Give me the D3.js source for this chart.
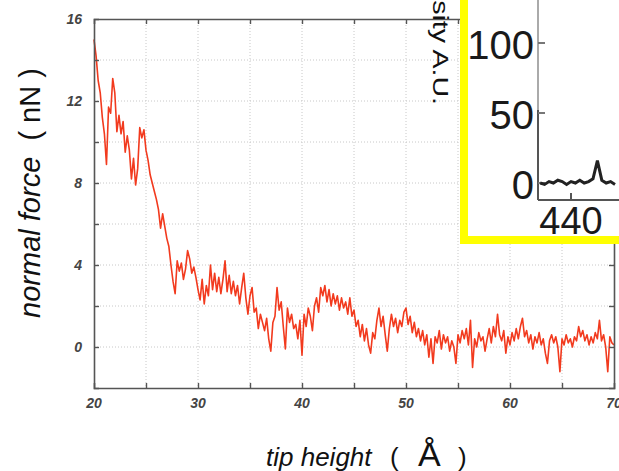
<!DOCTYPE html>
<html>
<head>
<meta charset="utf-8">
<script src="https://cdn.jsdelivr.net/npm/d3@7"></script>
<style>
  body { margin: 0; background: #fff; }
  text { font-family: "Liberation Sans", Arial, sans-serif; }
</style>
</head>
<body>
<div id="plot"></div>
<script>
// tip height (Å)
const tipHeight = [
  20, 20.2, 20.4, 20.6, 20.8, 21, 21.2, 21.4, 21.6, 21.8,
  22, 22.2, 22.4, 22.6, 22.8, 23, 23.2, 23.4, 23.6, 23.8,
  24, 24.2, 24.4, 24.6, 24.8, 25, 25.2, 25.4, 25.6, 25.8,
  26, 26.2, 26.4, 26.6, 26.8, 27, 27.2, 27.4, 27.6, 27.8,
  28, 28.2, 28.4, 28.6, 28.8, 29, 29.2, 29.4, 29.6, 29.8,
  30, 30.2, 30.4, 30.6, 30.8, 31, 31.2, 31.4, 31.6, 31.8,
  32, 32.2, 32.4, 32.6, 32.8, 33, 33.2, 33.4, 33.6, 33.8,
  34, 34.2, 34.4, 34.6, 34.8, 35, 35.2, 35.4, 35.6, 35.8,
  36, 36.2, 36.4, 36.6, 36.8, 37, 37.2, 37.4, 37.6, 37.8,
  38, 38.2, 38.4, 38.6, 38.8, 39, 39.2, 39.4, 39.6, 39.8,
  40, 40.2, 40.4, 40.6, 40.8, 41, 41.2, 41.4, 41.6, 41.8,
  42, 42.2, 42.4, 42.6, 42.8, 43, 43.2, 43.4, 43.6, 43.8,
  44, 44.2, 44.4, 44.6, 44.8, 45, 45.2, 45.4, 45.6, 45.8,
  46, 46.2, 46.4, 46.6, 46.8, 47, 47.2, 47.4, 47.6, 47.8,
  48, 48.2, 48.4, 48.6, 48.8, 49, 49.2, 49.4, 49.6, 49.8,
  50, 50.2, 50.4, 50.6, 50.8, 51, 51.2, 51.4, 51.6, 51.8,
  52, 52.2, 52.4, 52.6, 52.8, 53, 53.2, 53.4, 53.6, 53.8,
  54, 54.2, 54.4, 54.6, 54.8, 55, 55.2, 55.4, 55.6, 55.8,
  56, 56.2, 56.4, 56.6, 56.8, 57, 57.2, 57.4, 57.6, 57.8,
  58, 58.2, 58.4, 58.6, 58.8, 59, 59.2, 59.4, 59.6, 59.8,
  60, 60.2, 60.4, 60.6, 60.8, 61, 61.2, 61.4, 61.6, 61.8,
  62, 62.2, 62.4, 62.6, 62.8, 63, 63.2, 63.4, 63.6, 63.8,
  64, 64.2, 64.4, 64.6, 64.8, 65, 65.2, 65.4, 65.6, 65.8,
  66, 66.2, 66.4, 66.6, 66.8, 67, 67.2, 67.4, 67.6, 67.8,
  68, 68.2, 68.4, 68.6, 68.8, 69, 69.2, 69.4, 69.6, 69.8,
  70
];

// normal force (nN)
const normalForce = [
  15.0, 14.2, 13.0, 12.4, 11.2, 10.4, 8.9, 11.7, 11.4, 13.1,
  12.4, 10.5, 11.3, 10.4, 11.0, 9.5, 10.3, 9.6, 8.2, 9.2,
  7.9, 8.7, 10.7, 10.2, 10.6, 9.6, 9.1, 8.4, 8.0, 7.6,
  7.2, 6.7, 5.8, 6.5, 5.9, 5.3, 4.9, 4.0, 3.2, 2.6,
  4.2, 3.7, 4.1, 3.3, 3.8, 4.7, 4.3, 3.6, 3.9, 3.4,
  2.8, 2.3, 3.3, 2.1, 3.0, 2.5, 4.0, 2.8, 3.6, 2.7,
  3.4, 2.6, 3.3, 4.2, 2.7, 3.5, 2.6, 3.2, 2.5, 3.0,
  2.1, 2.9, 3.6, 2.4, 1.6, 2.5, 2.9, 1.7, 1.9, 0.9,
  1.6, 1.2, 0.8, 1.4, 0.4, -0.2, 1.2, 1.5, 2.9, 1.8,
  2.2, 1.0, -0.1, 1.9, 1.2, 1.6, 0.9, 1.1, 0.4, 1.3,
  -0.4, 1.6, 1.0, 1.9, 1.5, 0.8, 2.0, 2.4, 1.7, 2.9,
  2.5, 3.0, 2.2, 2.8, 2.0, 2.6, 2.1, 2.5, 1.8, 2.4,
  1.9, 2.2, 1.6, 2.4, 1.5, 1.8, 1.0, 1.3, 0.5, 1.1,
  0.3, 0.9, 0.1, -0.3, 0.7, 0.4, 1.3, 1.9, 1.0, 1.5,
  0.6, -0.2, 0.9, 1.6, 1.0, 1.4, 0.7, 1.3, 1.0, 1.7,
  1.9, 1.1, 1.5, 0.7, 1.2, 0.5, 0.9, 0.3, 0.8, 0.1,
  0.6, -0.5, 0.4, -0.8, 0.5, 0.2, 0.8, -0.1, 0.6, 0.2,
  0.5, -0.2, 0.3, 0.0, -0.8, 0.6, 0.2, 0.8, 0.4, 0.9,
  0.1, 1.3, -1.0, 0.4, 0.0, 0.7, 0.3, 0.5, -0.2, 0.4,
  0.9, 0.2, 1.0, 0.5, 1.6, 0.6, 0.3, 0.8, -0.3, 0.5,
  0.1, 0.7, 0.3, 0.9, 0.4, 1.0, 1.4, 0.5, 0.8, 0.2,
  0.6, -0.1, 0.5, 0.2, 0.7, 0.1, 0.4, -0.3, -0.8, 0.3,
  0.6, 0.2, 0.5, 0.0, -1.2, 0.4, 0.1, 0.6, 0.2, 0.4,
  0.0, 0.5, 0.3, 1.0, 0.5, 0.8, 0.3, 0.6, 0.1, 0.5,
  0.2, 0.7, 0.4, 1.3, 0.3, 0.6, 0.0, -1.2, 0.5, 0.2,
  0.1
];

const xTickLabels = [20, 30, 40, 50, 60, 70];
const yTickLabels = [0, 4, 8, 12, 16];
const xGrid = [25, 30, 35, 40, 45, 50, 55, 60, 65];
const yGrid = [0, 2, 4, 6, 8, 10, 12, 14];

// inset spectrum (cropped at the top right)
const insetWavelength = [426, 428, 430, 432, 434, 436, 438, 440, 442, 444, 446, 448, 450, 452, 454, 456, 458, 460];
const insetIntensity = [0, -1, 1, 0, 2, 1, -1, 1, 0, 2, 0, 1, 3, 16, 2, 0, 1, -1];
const insetYTicks = [0, 50, 100];
const insetXTicks = [440];

const W = 619, H = 471;

const svg = d3.select("div#plot")
  .append("svg")
  .attr("width", W)
  .attr("height", H);

const x = d3.scaleLinear().domain([20, 70]).range([94, 614]);
const y = d3.scaleLinear().domain([-2, 16]).range([388, 19]);

// dotted grid
svg.append("g")
  .selectAll("line")
  .data(xGrid)
  .join("line")
    .attr("x1", d => x(d)).attr("x2", d => x(d))
    .attr("y1", y(16)).attr("y2", y(-2))
    .attr("stroke", "#c8c8c8")
    .attr("stroke-dasharray", "1,2");

svg.append("g")
  .selectAll("line")
  .data(yGrid)
  .join("line")
    .attr("x1", x(20)).attr("x2", x(70))
    .attr("y1", d => y(d)).attr("y2", d => y(d))
    .attr("stroke", "#c8c8c8")
    .attr("stroke-dasharray", "1,2");

// the force curve
const pts = tipHeight.map((t, i) => [t, normalForce[i]]);
svg.append("path")
  .datum(pts)
  .attr("fill", "none")
  .attr("stroke", "#f23a1e")
  .attr("stroke-width", 1.6)
  .attr("stroke-linejoin", "round")
  .attr("d", d3.line().x(d => x(d[0])).y(d => y(d[1])));

// frame with inward ticks on all sides
const tk = 5;
const bottomAx = svg.append("g").attr("transform", `translate(0,${y(-2)})`)
  .call(d3.axisBottom(x).tickValues(xGrid).tickSize(-tk).tickFormat(""));
const topAx = svg.append("g").attr("transform", `translate(0,${y(16)})`)
  .call(d3.axisTop(x).tickValues(xGrid).tickSize(-tk).tickFormat(""));
const leftAx = svg.append("g").attr("transform", `translate(${x(20)},0)`)
  .call(d3.axisLeft(y).tickValues(yGrid).tickSize(-tk).tickFormat(""));
const rightAx = svg.append("g").attr("transform", `translate(${x(70)},0)`)
  .call(d3.axisRight(y).tickValues(yGrid).tickSize(-tk).tickFormat(""));
[bottomAx, topAx, leftAx, rightAx].forEach(g => {
  g.selectAll("path").attr("stroke", "#555").attr("stroke-width", 1.6);
  g.selectAll("line").attr("stroke", "#555").attr("stroke-width", 1.4);
});

// tick labels
svg.append("g")
  .selectAll("text")
  .data(xTickLabels)
  .join("text")
    .attr("x", d => x(d))
    .attr("y", 408)
    .attr("text-anchor", "middle")
    .style("font-size", "14px")
    .style("font-style", "italic")
    .style("font-weight", "bold")
    .attr("fill", "#444")
    .text(d => d);

svg.append("g")
  .selectAll("text")
  .data(yTickLabels)
  .join("text")
    .attr("x", 82)
    .attr("y", d => y(d) + 5)
    .attr("text-anchor", "end")
    .style("font-size", "14px")
    .style("font-style", "italic")
    .style("font-weight", "bold")
    .attr("fill", "#444")
    .text(d => d);

// axis titles
const xt = svg.append("text")
  .attr("y", 466)
  .style("font-size", "26px")
  .attr("fill", "#111");
xt.append("tspan").attr("x", 266).style("font-style", "italic").text("tip height");
xt.append("tspan").attr("x", 390).text("(");
xt.append("tspan").attr("x", 418).style("font-size", "34px").text("Å");
xt.append("tspan").attr("x", 458).text(")");

const yt = svg.append("text")
  .attr("transform", "translate(40,193) rotate(-90)")
  .attr("text-anchor", "middle")
  .style("font-size", "29px")
  .attr("fill", "#111");
yt.append("tspan").style("font-style", "italic").text("normal force");
yt.append("tspan").text("\u00a0\u00a0(\u00a0nN\u00a0)");

// inset box
svg.append("rect")
  .attr("x", 464).attr("y", -20)
  .attr("width", 200).attr("height", 260)
  .attr("fill", "#fff")
  .attr("stroke", "#ffff00")
  .attr("stroke-width", 8);

const ix = d3.scaleLinear().domain([425, 460]).range([538, 615]);
const iy = d3.scaleLinear().domain([0, 100]).range([183, 43]);

svg.append("line")
  .attr("x1", 538).attr("x2", 538).attr("y1", 0).attr("y2", 110)
  .attr("stroke", "#aaa").attr("stroke-width", 2);
svg.append("line")
  .attr("x1", 538).attr("x2", 538).attr("y1", 110).attr("y2", 200)
  .attr("stroke", "#555").attr("stroke-width", 2);
svg.append("line")
  .attr("x1", 538).attr("x2", 619).attr("y1", 200).attr("y2", 200)
  .attr("stroke", "#555").attr("stroke-width", 2);

svg.append("g")
  .selectAll("line")
  .data(insetYTicks)
  .join("line")
    .attr("x1", 538).attr("x2", 545)
    .attr("y1", d => iy(d)).attr("y2", d => iy(d))
    .attr("stroke", "#777").attr("stroke-width", 2);

svg.append("g")
  .selectAll("line")
  .data(insetXTicks)
  .join("line")
    .attr("x1", d => ix(d)).attr("x2", d => ix(d))
    .attr("y1", 200).attr("y2", 193)
    .attr("stroke", "#555").attr("stroke-width", 2);

svg.append("g")
  .selectAll("text")
  .data(insetYTicks)
  .join("text")
    .attr("x", 534)
    .attr("y", d => iy(d) + 16)
    .attr("text-anchor", "end")
    .style("font-size", "40px")
    .attr("fill", "#1a1a1a")
    .text(d => d);

svg.append("g")
  .selectAll("text")
  .data(insetXTicks)
  .join("text")
    .attr("x", d => ix(d))
    .attr("y", 234)
    .attr("text-anchor", "middle")
    .style("font-size", "38px")
    .attr("fill", "#1a1a1a")
    .text(d => d);

svg.append("path")
  .datum(insetWavelength.map((w, i) => [w, insetIntensity[i]]))
  .attr("fill", "none")
  .attr("stroke", "#222")
  .attr("stroke-width", 3)
  .attr("d", d3.line().x(d => ix(d[0])).y(d => iy(d[1])));

// inset axis title, cut off at the top edge
svg.append("text")
  .attr("transform", "translate(433,105) rotate(90) scale(1.3,1)")
  .attr("text-anchor", "end")
  .style("font-size", "22px")
  .attr("fill", "#111")
  .text("Intensity A.U.");
</script>
</body>
</html>
